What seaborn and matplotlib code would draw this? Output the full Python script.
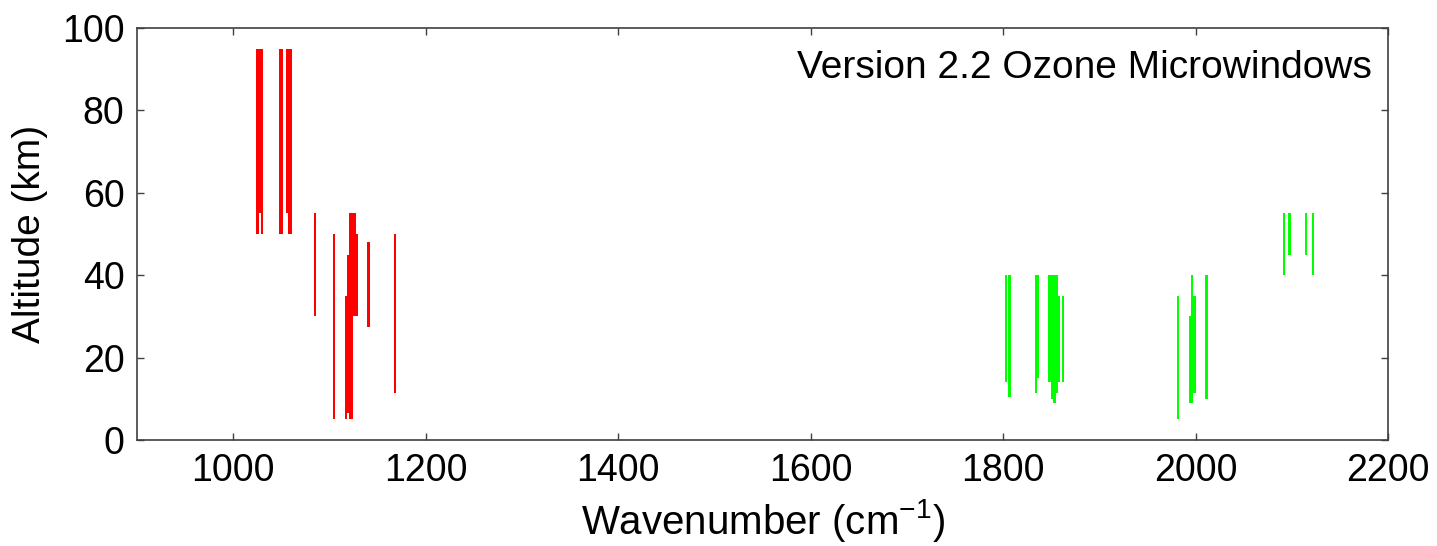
import matplotlib
matplotlib.use("Agg")
import matplotlib.pyplot as plt
import seaborn as sns

# microwindow edges (cm^-1) and altitude range (km)
red_lo = [1023.7, 1027.1, 1028.5, 1047.2, 1054.8, 1057.0, 1084.2, 1104.2,
          1115.8, 1117.8, 1120.3, 1124.8, 1127.6, 1139.7, 1167.0]
red_hi = [1027.1, 1028.5, 1031.2, 1051.4, 1057.0, 1061.4, 1086.0, 1106.0,
          1117.8, 1120.3, 1124.8, 1127.6, 1130.0, 1141.5, 1169.0]
red_bot = [50, 55, 50, 50, 55, 50, 30, 5, 5, 6.5, 5, 30, 30, 27.5, 11.5]
red_top = [95, 95, 95, 95, 95, 95, 55, 50, 35, 45, 55, 55, 50, 48, 50]

green_lo = [1802.0, 1805.5, 1833.2, 1835.5, 1847.0, 1849.5, 1852.0, 1855.3,
            1857.4, 1861.0, 1980.4, 1993.0, 1995.0, 1997.7, 2010.2, 2091.0,
            2096.5, 2114.0, 2120.7]
green_hi = [1803.8, 1808.0, 1835.5, 1837.6, 1849.5, 1852.0, 1854.7, 1857.4,
            1859.3, 1862.7, 1982.5, 1995.0, 1996.5, 1999.8, 2012.3, 2093.0,
            2098.5, 2116.0, 2122.8]
green_bot = [14, 10.5, 11.5, 15, 14, 10, 9, 11.5, 14, 14, 5, 9, 9, 11.5, 10,
             40, 45, 45, 40]
green_top = [40, 40, 40, 40, 40, 40, 40, 40, 35, 35, 35, 30, 40, 35, 40,
             55, 55, 55, 55]

x_ticks = [1000, 1200, 1400, 1600, 1800, 2000, 2200]
y_ticks = [0, 20, 40, 60, 80, 100]

sns.set_style("white")
plt.rcParams["font.family"] = ["Liberation Sans", "DejaVu Sans"]
plt.rcParams["mathtext.default"] = "regular"
plt.rcParams["text.color"] = "black"
plt.rcParams["axes.labelcolor"] = "black"

fig = plt.figure(figsize=(14.37, 5.46), dpi=100)
ax = fig.add_axes([0.0953, 0.194, 0.8707, 0.7547])


def draw_windows(lo, hi, bot, top, color):
    centers = [(a + b) / 2 for a, b in zip(lo, hi)]
    widths = [max(b - a, 2.2) for a, b in zip(lo, hi)]
    heights = [t - b for b, t in zip(bot, top)]
    ax.bar(centers, heights, width=widths, bottom=bot, color=color,
           linewidth=0, align="center")


draw_windows(red_lo, red_hi, red_bot, red_top, "#ff0000")
draw_windows(green_lo, green_hi, green_bot, green_top, "#00ff00")

ax.set_xlim(900, 2200)
ax.set_ylim(0, 100)
ax.set_xticks(x_ticks)
ax.set_yticks(y_ticks)
ax.tick_params(direction="in", length=5, width=1, colors="#404040",
               labelcolor="black", labelsize=27, top=True, right=True,
               bottom=True, left=True, pad=9)
for s in ax.spines.values():
    s.set_visible(True)
    s.set_color("#404040")
    s.set_linewidth(1.2)

ax.set_xlabel("Wavenumber (cm$^{-1}$)", fontsize=29, labelpad=6)
ax.set_ylabel("Altitude (km)", fontsize=28, labelpad=10)
ax.text(0.987, 0.903, "Version 2.2 Ozone Microwindows", transform=ax.transAxes,
        ha="right", va="center", fontsize=28)

fig.savefig("out.png", dpi=100)
